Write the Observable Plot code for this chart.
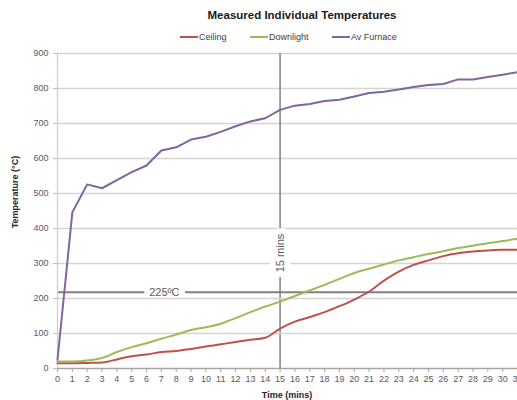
<!DOCTYPE html>
<html>
<head>
<meta charset="utf-8">
<script src="https://cdn.jsdelivr.net/npm/d3@7"></script>
<script src="https://cdn.jsdelivr.net/npm/@observablehq/plot@0.6"></script>
<style>
  html, body { margin: 0; padding: 0; background: #fff; overflow: hidden; }
  #wrap { position: relative; width: 517px; height: 400px; font-family: "Liberation Sans", Arial, sans-serif; }
  #chart { position: absolute; left: 0; top: 0; }
  .title { position: absolute; left: 0; width: 604px; top: 9px; text-align: center; font-size: 11.5px; font-weight: bold; color: #1a1a1a; }
  .legend { position: absolute; top: 31px; left: 0; height: 12px; font-size: 9px; color: #404040; }
  .legend .item { position: absolute; top: 0; white-space: nowrap; line-height: 12px; }
  .legend .sw { display: inline-block; width: 18px; height: 2px; vertical-align: middle; margin-right: 1px; position: relative; top: -1px; }
  .ylab { position: absolute; left: 15px; top: 192px; transform: translate(-50%, -50%) rotate(-90deg); font-size: 9px; font-weight: bold; color: #262626; white-space: nowrap; }
  .xlab { position: absolute; left: 287px; top: 395px; transform: translate(-50%, -50%); font-size: 9px; font-weight: bold; color: #262626; white-space: nowrap; }
</style>
</head>
<body>
<div id="wrap">
  <div id="chart"></div>
  <div class="title">Measured Individual Temperatures</div>
  <div class="legend" id="legend"></div>
  <div class="ylab">Temperature (°C)</div>
  <div class="xlab">Time (mins)</div>
</div>
<script>
// ---- data ----
const time = [0,1,2,3,4,5,6,7,8,9,10,11,12,13,14,15,16,17,18,19,20,21,22,23,24,25,26,27,28,29,30,31];
const ceiling = [15,15,16,17,26,35,40,47,50,56,63,69,76,82,88,114,134,147,161,178,197,220,251,277,296,309,321,329,334,337,339,339];
const downlight = [20,20,23,30,47,61,72,85,97,110,118,128,144,161,177,191,207,223,239,256,273,285,297,309,318,327,335,344,351,358,364,371];
const furnace = [25,446,526,515,538,561,580,623,632,654,662,676,692,706,715,739,751,756,764,768,777,787,791,797,804,810,813,826,826,833,839,847];
const seriesNames = ["Ceiling", "Downlight", "Av Furnace"];
const seriesColors = ["#C0504D", "#9BBB59", "#8064A2"];
const seriesCurves = ["monotone-x", "monotone-x", "linear"];
const yTicks = [0,100,200,300,400,500,600,700,800,900];
const xTicks = time;
const refTemp = 218;          // drawn threshold line
const refTempLabel = "225ºC";
const refTempLabelAt = 7.2;   // minutes
const refTime = 15;
const refTimeLabel = "15 mins";
const refTimeLabelAt = 330;   // °C
const legendX = [180, 250, 332];

// ---- build ----
const seriesValues = [ceiling, downlight, furnace];
const rows = [];
seriesNames.forEach((name, s) => {
  time.forEach((t, i) => rows.push({series: name, t, v: seriesValues[s][i]}));
});

const lineMarks = seriesNames.map((name, s) =>
  Plot.lineY(rows.filter(d => d.series === name), {
    x: "t", y: "v", stroke: seriesColors[s], strokeWidth: 2, curve: seriesCurves[s]
  })
);

const chart = Plot.plot({
  width: 517,
  height: 400,
  marginTop: 53,
  marginBottom: 32,
  marginLeft: 57,
  marginRight: 0,
  style: { fontFamily: "Liberation Sans, Arial, sans-serif", fontSize: "9px", background: "transparent", overflow: "visible" },
  x: { domain: [0, 31] },
  y: { domain: [0, 900] },
  marks: [
    Plot.gridY(yTicks.filter(t => t > refTemp), { stroke: "#d4d4d4", strokeOpacity: 1, strokeWidth: 1.3 }),
    Plot.ruleY([refTemp], { stroke: "#7f7f7f", strokeWidth: 2 }),
    Plot.ruleX([refTime], { stroke: "#7f7f7f", strokeWidth: 1.5 }),
    Plot.text([refTimeLabel], { x: refTime, y: refTimeLabelAt, text: d => d, rotate: -90, fontSize: 11, fill: "#595959", stroke: "white", strokeWidth: 12 }),
    Plot.text([refTempLabel], { x: refTempLabelAt, y: refTemp, text: d => d, fontSize: 11, fill: "#595959", stroke: "white", strokeWidth: 12 }),
    Plot.gridY(yTicks.filter(t => t > 0 && t < refTemp), { stroke: "#d4d4d4", strokeOpacity: 1, strokeWidth: 1.3 }),
    Plot.ruleX([0], { stroke: "#cfcfcf", strokeWidth: 1.3 }),
    Plot.ruleY([0], { stroke: "#a6a6a6", strokeWidth: 1.3 }),
    Plot.axisY(yTicks, { tickSize: 4, tickPadding: 5, stroke: "#bfbfbf", fill: "#595959", fontSize: 9, label: null, tickFormat: d => String(d) }),
    Plot.axisX(xTicks, { tickSize: 4, tickPadding: 3, stroke: "#a6a6a6", fill: "#595959", fontSize: 9, label: null, tickFormat: d => String(d) }),
    ...lineMarks
  ]
});
document.getElementById("chart").append(chart);

const legend = document.getElementById("legend");
seriesNames.forEach((name, s) => {
  const item = document.createElement("div");
  item.className = "item";
  item.style.left = legendX[s] + "px";
  item.innerHTML = `<span class="sw" style="background:${seriesColors[s]}"></span>${name}`;
  legend.append(item);
});
</script>
</body>
</html>
